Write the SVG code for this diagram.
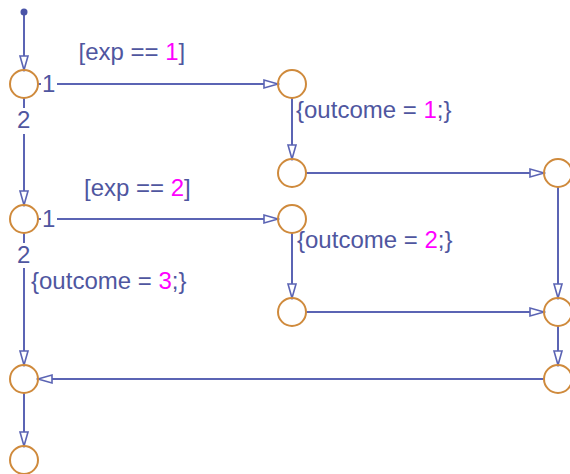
<svg xmlns="http://www.w3.org/2000/svg" width="570" height="474" viewBox="0 0 570 474">
<style>
.j{fill:none;stroke:#cf8a3c;stroke-width:2}
.c{fill:none;stroke:#5b64b4;stroke-width:2;marker-end:url(#ah)}
.t{font-family:"Liberation Sans",Arial,sans-serif;font-size:24px;fill:#4f56a0}
.m{fill:#ff00ff}
.bg{fill:#fff}
</style>
<defs>
<marker id="ah" markerUnits="userSpaceOnUse" viewBox="-16 -6 18 12" refX="0" refY="0" markerWidth="18" markerHeight="12" orient="auto">
<path d="M0,0 L-14,-4 L-14,4 Z" fill="#fff" stroke="#5b64b4" stroke-width="1.6" stroke-linejoin="miter"/>
</marker>
</defs>
<rect width="570" height="474" fill="#fff"/>
<g id="connectors">
<path class="c" d="M24,12 V70"/>
<path class="c" d="M38,84 H278"/>
<path class="c" d="M292,98 V159"/>
<path class="c" d="M306,173 H544"/>
<path class="c" d="M558,187 V298"/>
<path class="c" d="M24,98 V205"/>
<path class="c" d="M38,219 H278"/>
<path class="c" d="M292,233 V298"/>
<path class="c" d="M306,312 H544"/>
<path class="c" d="M24,233 V365"/>
<path class="c" d="M558,326 V365"/>
<path class="c" d="M544,379 H38"/>
<path class="c" d="M24,393 V446"/>
<circle cx="24" cy="12" r="3.5" fill="#4a54a8"/>
</g>
<g id="labels">
<rect class="bg" x="41" y="74" width="16" height="20"/>
<text class="t" x="42" y="92">1</text>
<rect class="bg" x="16" y="108" width="17" height="26"/>
<text class="t" x="17" y="128">2</text>
<rect class="bg" x="41" y="209" width="16" height="20"/>
<text class="t" x="42" y="227">1</text>
<rect class="bg" x="16" y="243" width="17" height="25"/>
<text class="t" x="17" y="263">2</text>
<text class="t" x="78.5" y="60">[exp == <tspan class="m">1</tspan>]</text>
<text class="t" x="84" y="196">[exp == <tspan class="m">2</tspan>]</text>
<text class="t" x="296" y="118">{outcome = <tspan class="m">1</tspan>;}</text>
<text class="t" x="297" y="248">{outcome = <tspan class="m">2</tspan>;}</text>
<text class="t" x="31" y="289">{outcome = <tspan class="m">3</tspan>;}</text>
</g>
<g id="jA"><circle class="j" cx="24" cy="84" r="14"/></g>
<g id="jB"><circle class="j" cx="292" cy="84" r="14"/></g>
<g id="jC"><circle class="j" cx="292" cy="173" r="14"/></g>
<g id="jD"><circle class="j" cx="558" cy="173" r="14"/></g>
<g id="jE"><circle class="j" cx="24" cy="219" r="14"/></g>
<g id="jF"><circle class="j" cx="292" cy="219" r="14"/></g>
<g id="jG"><circle class="j" cx="292" cy="312" r="14"/></g>
<g id="jH"><circle class="j" cx="558" cy="312" r="14"/></g>
<g id="jI"><circle class="j" cx="24" cy="379" r="14"/></g>
<g id="jJ"><circle class="j" cx="558" cy="379" r="14"/></g>
<g id="jK"><circle class="j" cx="24" cy="460" r="14"/></g>
</svg>
